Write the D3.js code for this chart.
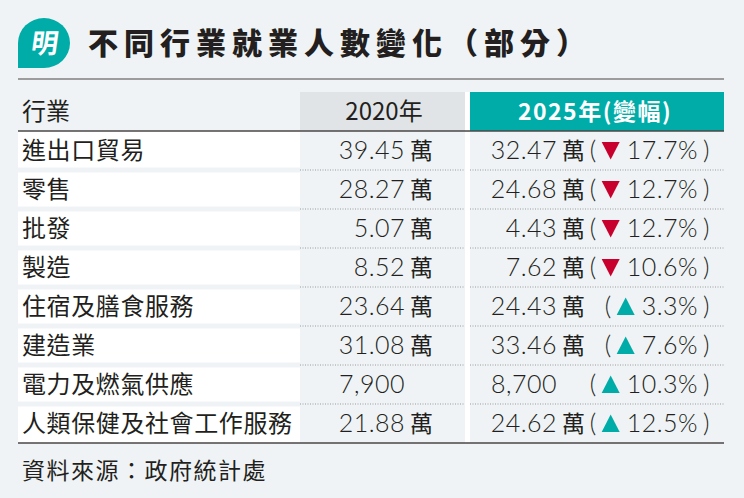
<!DOCTYPE html>
<html>
<head>
<meta charset="utf-8">
<script src="https://cdn.jsdelivr.net/npm/d3@7"></script>
<style>
  body { margin: 0; background: #eff3f5; }
  svg { display: block; }
  text { fill: #231f20; }
</style>
</head>
<body>
<svg id="chart"></svg>
<script>
const width = 744;
const height = 498;

// data
const industries = ['進出口貿易', '零售', '批發', '製造', '住宿及膳食服務', '建造業', '電力及燃氣供應', '人類保健及社會工作服務'];
const jobs2020 = [394500, 282700, 50700, 85200, 236400, 310800, 7900, 218800];
const jobs2025 = [324700, 246800, 44300, 76200, 244300, 334600, 8700, 246200];
const changePct = [17.7, 12.7, 12.7, 10.6, 3.3, 7.6, 10.3, 12.5];
const changeDir = ['down', 'down', 'down', 'down', 'up', 'up', 'up', 'up'];
const headers = ['行業', '2020年', '2025年(變幅)'];

const teal = '#00aca7';
const red = '#c8002d';
const cjk = '"Noto Sans CJK TC", "Noto Sans CJK SC", sans-serif';
const num = 'Lato, Roboto, "Liberation Sans", sans-serif';
const numSize = '25px';

const svg = d3.select('#chart')
    .attr('width', width)
    .attr('height', height);

// rows through a band scale
const y = d3.scaleBand()
    .domain(industries)
    .range([131, 443]);

const col = { left: 18, c1: 300, c1r: 465, c2: 470, right: 724 };

// logo bubble
svg.append('path')
    .attr('d', 'M18,68 V43 A26,25 0 1 1 44,68 Z')
    .attr('fill', teal);
svg.append('text')
    .attr('x', 45).attr('y', 53)
    .attr('text-anchor', 'middle')
    .style('font-family', cjk)
    .style('font-weight', 700)
    .style('font-size', '27px')
    .style('fill', '#fff')
    .attr('transform', 'skewX(-8) translate(6,0)')
    .text('明');

// title
svg.append('text')
    .attr('x', 88).attr('y', 54)
    .style('font-family', cjk)
    .style('font-weight', 900)
    .style('font-size', '30px')
    .style('letter-spacing', '6px')
    .text('不同行業就業人數變化（部分）');

// header cells
svg.append('rect')
    .attr('x', col.c1).attr('y', 92)
    .attr('width', col.c1r - col.c1).attr('height', 39)
    .attr('fill', '#e1e4e6');
svg.append('rect')
    .attr('x', col.c2).attr('y', 92)
    .attr('width', col.right - col.c2).attr('height', 39)
    .attr('fill', teal);

// white strip between the two value columns
svg.append('rect')
    .attr('x', col.c1r).attr('y', 92)
    .attr('width', col.c2 - col.c1r).attr('height', 443 - 92)
    .attr('fill', '#fff');

// white label cells
svg.append('g')
    .selectAll('rect')
    .data(industries)
    .join('rect')
    .attr('x', col.left)
    .attr('y', (d, i) => y(d) + (i === 0 ? 0 : 2.5))
    .attr('width', col.c1 - col.left)
    .attr('height', (d, i) => y.bandwidth() - (i === 0 ? 2.5 : 5) + (i === industries.length - 1 ? 2.5 : 0))
    .attr('fill', '#fff');

// dotted separators in the value columns
const seps = industries.slice(1);
[[col.c1, col.c1r], [col.c2, col.right]].forEach(([x1, x2]) => {
    svg.append('g')
        .selectAll('line')
        .data(seps)
        .join('line')
        .attr('x1', x1).attr('x2', x2)
        .attr('y1', d => y(d)).attr('y2', d => y(d))
        .attr('stroke', '#9a9a9a')
        .attr('stroke-width', 1)
        .attr('stroke-dasharray', '1,1.5');
});

// solid rules
[79, 131, 443].forEach(yy => {
    svg.append('line')
        .attr('x1', col.left).attr('x2', col.right)
        .attr('y1', yy).attr('y2', yy)
        .attr('stroke', '#4a4646')
        .attr('stroke-width', yy === 79 ? 1.2 : 1.5);
});

// header texts
const hy = 111 + 8.5;
svg.append('text')
    .attr('x', 22).attr('y', hy)
    .style('font-family', cjk).style('font-size', '24px')
    .text(headers[0]);
svg.append('text')
    .attr('x', 384).attr('y', hy)
    .attr('text-anchor', 'middle')
    .style('font-family', cjk).style('font-size', '24px')
    .text(headers[1]);
svg.append('text')
    .attr('x', 595).attr('y', hy)
    .attr('text-anchor', 'middle')
    .style('font-family', cjk).style('font-size', '23px')
    .style('font-weight', 700)
    .style('letter-spacing', '1.5px')
    .style('fill', '#fff')
    .text(headers[2]);

// formatting
const fmtNum = v => v >= 10000 ? (v / 10000).toFixed(2) : d3.format(',')(v);
const unit = v => v >= 10000 ? '萬' : '';

const rows = svg.append('g')
    .selectAll('g')
    .data(industries.map((d, i) => ({
        name: d, v0: jobs2020[i], v1: jobs2025[i], pct: changePct[i], dir: changeDir[i]
    })))
    .join('g')
    .attr('transform', d => `translate(0,${y(d.name) + y.bandwidth() / 2 + 8.5})`);

rows.append('text')
    .attr('x', 22)
    .style('font-family', cjk).style('font-size', '24px')
    .style('letter-spacing', '0.6px')
    .text(d => d.name);

function numText(g, x, anchor, str) {
    return g.append('text')
        .attr('x', x).attr('text-anchor', anchor)
        .style('font-family', num).style('font-size', numSize).style('font-weight', 300)
        .style('letter-spacing', '0.5px')
        .text(str);
}

// 2020 column
rows.each(function (d) { numText(d3.select(this), 405, 'end', fmtNum(d.v0)); });
rows.append('text')
    .attr('x', 410)
    .style('font-family', cjk).style('font-size', '23px')
    .text(d => unit(d.v0));

// 2025 column
rows.each(function (d) { numText(d3.select(this), 557, 'end', fmtNum(d.v1)); });
rows.append('text')
    .attr('x', 562)
    .style('font-family', cjk).style('font-size', '23px')
    .text(d => unit(d.v1));

rows.each(function (d) {
    const g = d3.select(this);
    numText(g, 703, 'start', ')');
    const t = numText(g, 698, 'end', d.pct.toFixed(1) + '%');
    const len = t.node().getComputedTextLength();
    const tr = 698 - len - 7;
    const tl = tr - 18;
    const cy = -8.5;
    const pts = d.dir === 'down'
        ? [[tl, cy - 8.5], [tr, cy - 8.5], [(tl + tr) / 2, cy + 9]]
        : [[tl, cy + 8.5], [tr, cy + 8.5], [(tl + tr) / 2, cy - 9]];
    g.append('path')
        .attr('d', d3.line()(pts) + 'Z')
        .attr('fill', d.dir === 'down' ? red : teal);
    numText(g, tl - 5, 'end', '(');
});

// source
svg.append('text')
    .attr('x', 22).attr('y', 479)
    .style('font-family', cjk).style('font-size', '23px')
    .style('letter-spacing', '1.5px')
    .text('資料來源：政府統計處');
</script>
</body>
</html>
